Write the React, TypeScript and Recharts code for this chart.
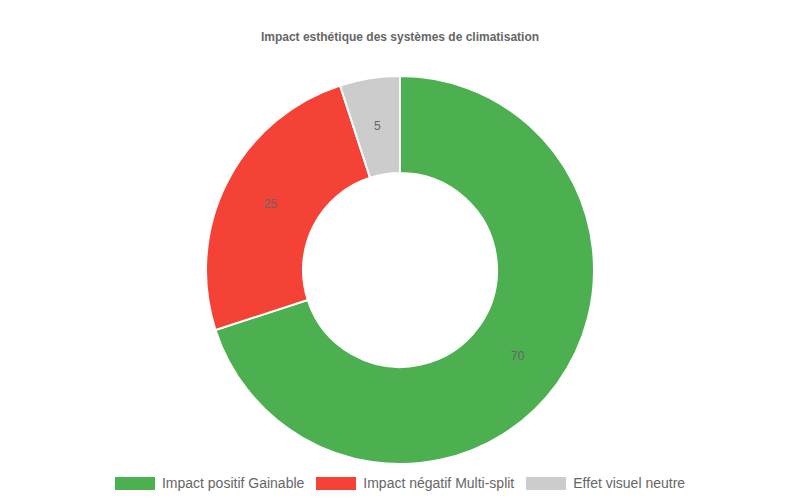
import React from 'react';
import { PieChart, Pie, Cell, Legend } from 'recharts';

const categories = ['Impact positif Gainable', 'Impact négatif Multi-split', 'Effet visuel neutre'];
const values = [70, 25, 5];
const colors = ['#4CAF50', '#F44336', '#CCCCCC'];
const title = 'Impact esthétique des systèmes de climatisation';

const data = categories.map((name, i) => ({ name, value: values[i] }));
const FONT = '"Liberation Sans", Arial, Helvetica, sans-serif';
const RAD = Math.PI / 180;

const renderLabel = (props: any) => {
  const { cx, cy, midAngle, innerRadius, outerRadius, value } = props;
  const r = (innerRadius + outerRadius) / 2;
  const x = cx + r * Math.cos(-midAngle * RAD);
  const y = cy + r * Math.sin(-midAngle * RAD);
  return (
    <text x={x} y={y} fill="#666" fontSize={12} fontFamily={FONT} textAnchor="middle" dominantBaseline="central">
      {value}
    </text>
  );
};

const renderLegend = () => (
  <div style={{ display: 'flex', justifyContent: 'center', alignItems: 'center', gap: 12, fontFamily: FONT, fontSize: 14, color: '#666' }}>
    {categories.map((c, i) => (
      <div key={c} style={{ display: 'flex', alignItems: 'center' }}>
        <span style={{ display: 'inline-block', width: 40, height: 13, background: colors[i], marginRight: 7 }} />
        <span>{c}</span>
      </div>
    ))}
  </div>
);

export default function App() {
  return (
    <div style={{ position: 'absolute', left: 0, top: 0, width: 800, height: 500, background: '#fff' }}>
      <div style={{ position: 'absolute', top: 29, left: 0, width: 800, textAlign: 'center', fontFamily: FONT, fontSize: 12, fontWeight: 'bold', color: '#666', lineHeight: '16px' }}>
        {title}
      </div>
      <PieChart width={800} height={500} margin={{ top: 0, right: 0, bottom: 0, left: 0 }}>
        <Pie
          data={data}
          dataKey="value"
          nameKey="name"
          cx={400}
          cy={270}
          outerRadius={194}
          innerRadius={97}
          startAngle={90}
          endAngle={-270}
          stroke="#fff"
          strokeWidth={2}
          label={renderLabel}
          labelLine={false}
          isAnimationActive={false}
        >
          {data.map((d, i) => (
            <Cell key={d.name} fill={colors[i]} />
          ))}
        </Pie>
        <Legend content={renderLegend} wrapperStyle={{ top: 474, left: 0, width: 800, height: 18, lineHeight: '18px' }} />
      </PieChart>
    </div>
  );
}
